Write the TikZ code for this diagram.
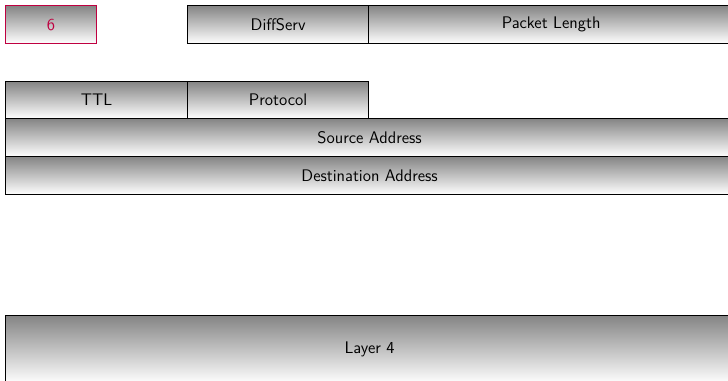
\documentclass[tikz,border=0pt]{standalone}
\tikzset{every picture/.style={line width=0.9pt}}
\tikzset{field/.style={draw, top color=black!48, bottom color=white, font=\sffamily\fontsize{12.6}{15}\selectfont, inner sep=0pt, anchor=north west}}

\begin{document}
\begin{tikzpicture}[x=0.75pt,y=0.75pt,yscale=-1,xscale=1]
\useasboundingbox (0,0) rectangle (728,381); %set diagram size 728 x 381

%First row
\node [field, draw=purple, text=purple, minimum width=68.25pt, minimum height=28.5pt] (version) at (5,5) {6};
\node [field, minimum width=135.75pt, minimum height=28.5pt] (diffserv) at (187,5) {DiffServ};
\node [field, minimum width=273.75pt, minimum height=28.5pt] (pktlen) at (368,5) {Packet Length};
%Second row
\node [field, minimum width=136.5pt, minimum height=27.75pt] (ttl) at (5,81) {TTL};
\node [field, minimum width=135.75pt, minimum height=27.75pt] (proto) at (187,81) {Protocol};
%Addresses
\node [field, minimum width=546pt, minimum height=28.5pt] (srcaddr) at (5,118) {Source Address};
\node [field, minimum width=546pt, minimum height=28.5pt] (dstaddr) at (5,156) {Destination Address};
%Payload
\node [field, minimum width=546pt, minimum height=51pt] (layerfour) at (5,315) {Layer 4};

\end{tikzpicture}
\end{document}
